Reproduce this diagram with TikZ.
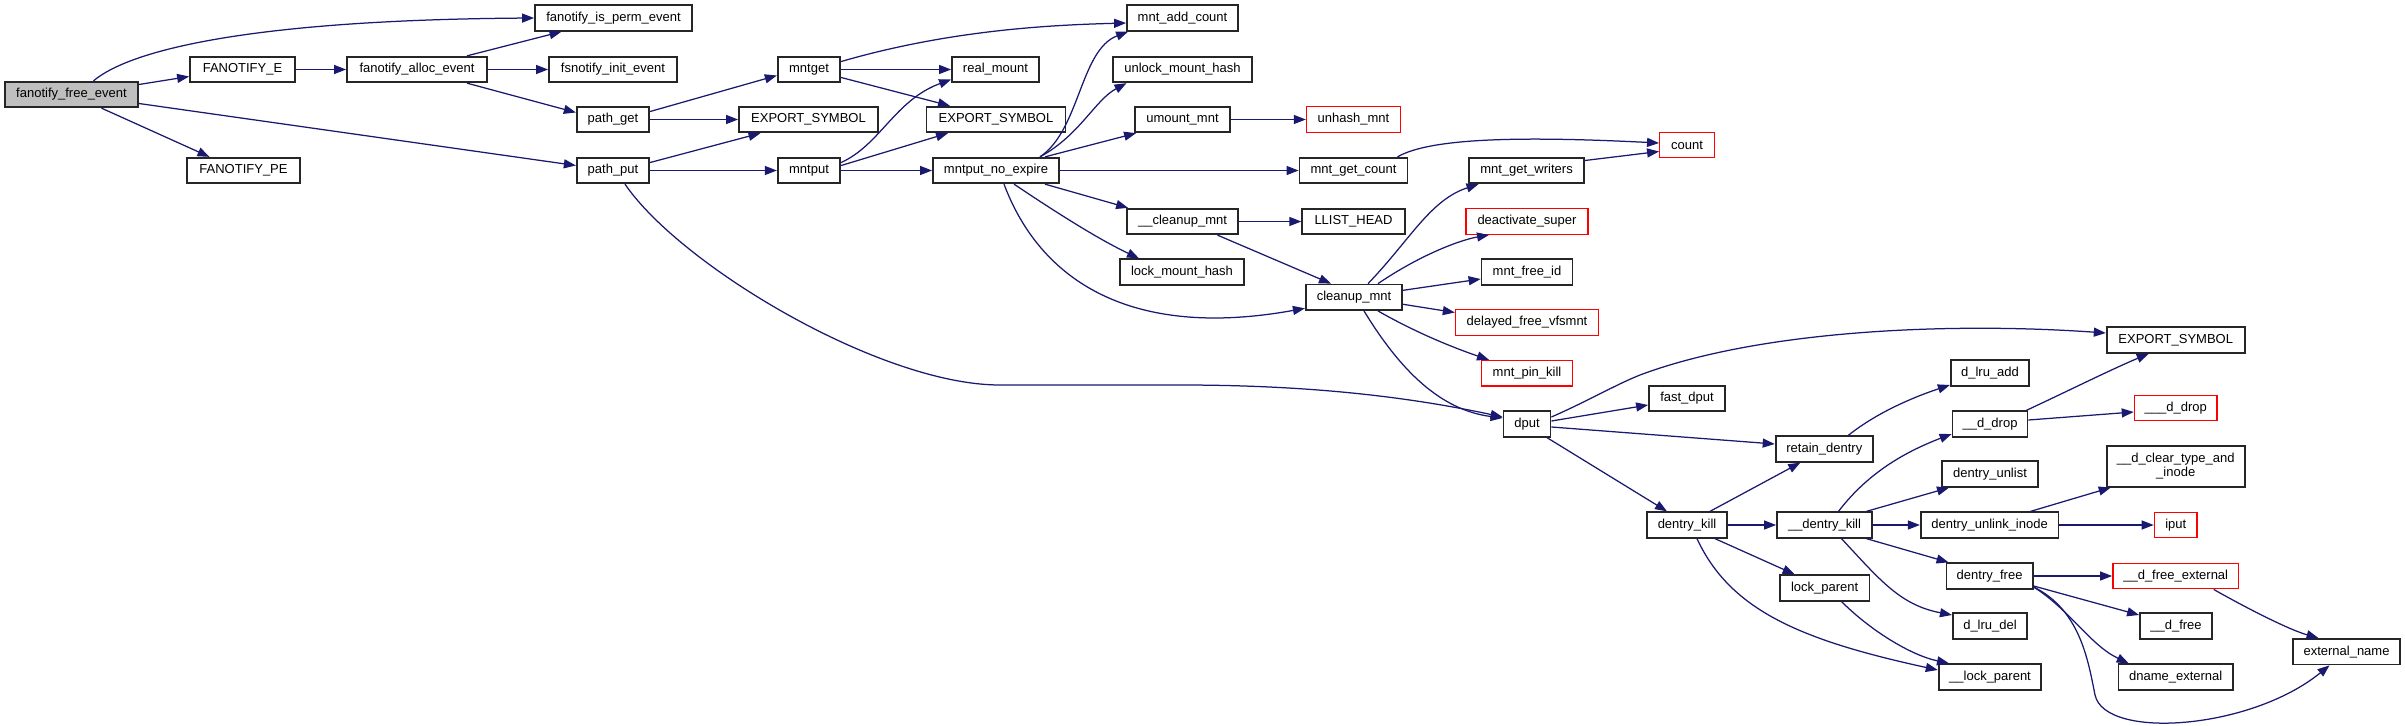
\documentclass[tikz,border=0pt]{standalone}
\usepackage{fontspec}
\setmainfont{Liberation Sans}
\usetikzlibrary{arrows.meta}
\definecolor{edgec}{RGB}{25,25,112}
\definecolor{grayfill}{RGB}{191,191,191}
\begin{document}
\begin{tikzpicture}[x=1pt,y=-1pt,
  box/.style={draw=black!85, line width=1.8pt, fill=white, minimum height=25.5pt, inner sep=0pt, font=\fontsize{13}{14.5}\selectfont},
  redbox/.style={box, draw=red, line width=1.4pt},
  e/.style={draw=edgec, line width=1.25pt, -{Triangle[length=12pt,width=9pt]}}]
\useasboundingbox[fill=white] (0,0) rectangle (2405,725);
% nodes
\node[box, minimum width=133pt, fill=grayfill] (ffe) at (71.5,94.5) {fanotify\_free\_event};
\node[box, minimum width=105pt] (fe) at (242.5,69.5) {FANOTIFY\_E};
\node[box, minimum width=113pt] (fpe) at (243.5,170.5) {FANOTIFY\_PE};
\node[box, minimum width=157pt] (isperm) at (613.5,18) {fanotify\_is\_perm\_event};
\node[box, minimum width=140pt] (alloc) at (417,69.5) {fanotify\_alloc\_event};
\node[box, minimum width=128pt] (fsinit) at (613,69.5) {fsnotify\_init\_event};
\node[box, minimum width=72.5pt] (pget) at (613,119.5) {path\_get};
\node[box, minimum width=72.5pt] (pput) at (613,170.5) {path\_put};
\node[box, minimum width=62.5pt] (mntget) at (809,69.5) {mntget};
\node[box, minimum width=139pt] (esa) at (808.5,119.5) {EXPORT\_SYMBOL};
\node[box, minimum width=62.5pt] (mntput) at (809,170.5) {mntput};
\node[box, minimum width=111pt] (addcount) at (1182.5,18) {mnt\_add\_count};
\node[box, minimum width=87pt] (realmount) at (995.5,69.5) {real\_mount};
\node[box, minimum width=139pt] (esb) at (996,119.5) {EXPORT\_SYMBOL};
\node[box, minimum width=139pt] (unlock) at (1182.5,69.5) {unlock\_mount\_hash};
\node[box, minimum width=95pt] (umount) at (1182.5,119.5) {umount\_mnt};
\node[redbox, minimum width=94pt] (unhash) at (1353.5,119.5) {unhash\_mnt};
\node[box, minimum width=126pt] (mne) at (996,170.5) {mntput\_no\_expire};
\node[box, minimum width=108pt] (mgc) at (1353.5,170.5) {mnt\_get\_count};
\node[box, minimum width=111pt] (ucleanup) at (1182.5,221.5) {\_\_cleanup\_mnt};
\node[box, minimum width=102.5pt] (llist) at (1353.5,221.5) {LLIST\_HEAD};
\node[box, minimum width=124pt] (lmh) at (1182,272) {lock\_mount\_hash};
\node[box, minimum width=96.4pt] (cleanup) at (1354,297.3) {cleanup\_mnt};
\node[redbox, minimum width=54.5pt] (count) at (1687,145) {count};
\node[box, minimum width=115pt] (mgw) at (1526.5,170.5) {mnt\_get\_writers};
\node[redbox, minimum width=122pt] (deact) at (1527,221.5) {deactivate\_super};
\node[box, minimum width=91pt] (mfi) at (1527,272) {mnt\_free\_id};
\node[redbox, minimum width=143pt] (delayed) at (1527,322.5) {delayed\_free\_vfsmnt};
\node[redbox, minimum width=91pt] (pinkill) at (1527,373.3) {mnt\_pin\_kill};
\node[box, minimum width=47pt] (dput) at (1527,424) {dput};
\node[box, minimum width=138pt] (esc) at (2175.7,340) {EXPORT\_SYMBOL};
\node[box, minimum width=76pt] (fastdput) at (1687,398.5) {fast\_dput};
\node[box, minimum width=97.4pt] (retain) at (1824.3,449) {retain\_dentry};
\node[box, minimum width=80.6pt] (dkill) at (1687,525) {dentry\_kill};
\node[box, minimum width=78.5pt] (dlruadd) at (1990,373) {d\_lru\_add};
\node[box, minimum width=75pt] (udrop) at (1990,424) {\_\_d\_drop};
\node[redbox, minimum width=82.6pt] (uudrop) at (2175.7,408) {\_\_\_d\_drop};
\node[box, minimum width=95pt] (udkill) at (1824.5,525) {\_\_dentry\_kill};
\node[box, minimum width=96.6pt] (dunlist) at (1990,474) {dentry\_unlist};
\node[box, minimum width=137.6pt] (dui) at (1989.6,525) {dentry\_unlink\_inode};
\node[box, minimum width=138pt, minimum height=40.7pt, align=center] (clear) at (2175.7,466.3) {\_\_d\_clear\_type\_and\\\_inode};
\node[redbox, minimum width=42.6pt] (iput) at (2175.7,525) {iput};
\node[box, minimum width=86.3pt] (dfree) at (1989.6,576) {dentry\_free};
\node[redbox, minimum width=125.8pt] (dfe) at (2175.7,576) {\_\_d\_free\_external};
\node[box, minimum width=89.8pt] (lockparent) at (1824.6,588) {lock\_parent};
\node[box, minimum width=102.7pt] (ulp) at (1990,677) {\_\_lock\_parent};
\node[box, minimum width=74.3pt] (dlrudel) at (1990,626) {d\_lru\_del};
\node[box, minimum width=72pt] (udfree) at (2176,626) {\_\_d\_free};
\node[box, minimum width=114.5pt] (dname) at (2175.7,677) {dname\_external};
\node[box, minimum width=106.8pt] (extname) at (2346.5,651.7) {external\_name};
% edges
\draw[e] ([xshift=22pt]ffe.north) .. controls (130,50) and (250,20) .. (isperm.west);
\draw[e] ([yshift=10pt]ffe.east) -- ([yshift=-7pt]fe.west);
\draw[e] ([xshift=30pt]ffe.south) -- ([xshift=-34pt]fpe.north);
\draw[e] ([yshift=-9pt]ffe.east) -- ([yshift=5pt]pput.west);
\draw[e] (fe.east) -- (alloc.west);
\draw[e] ([xshift=50pt]alloc.north) -- ([xshift=-52pt]isperm.south);
\draw[e] (alloc.east) -- (fsinit.west);
\draw[e] ([xshift=50pt]alloc.south) -- ([yshift=7pt]pget.west);
\draw[e] ([yshift=8pt]pget.east) -- ([yshift=-6pt]mntget.west);
\draw[e] (pget.east) -- (esa.west);
\draw[e] ([yshift=8pt]pput.east) -- ([xshift=-48pt]esa.south);
\draw[e] (pput.east) -- (mntput.west);
\draw[e] ([xshift=12pt]pput.south) .. controls (680,265) and (880,385) .. (1000,385) -- (1180,385) .. controls (1300,385) and (1400,395) .. ([yshift=7pt]dput.west);
\draw[e] ([yshift=8pt]mntget.east) .. controls (950,30) and (1050,25) .. ([yshift=-5pt]addcount.west);
\draw[e] (mntget.east) -- (realmount.west);
\draw[e] ([yshift=-8pt]mntget.east) -- ([xshift=-46pt]esb.north);
\draw[e] ([yshift=8pt]mntput.east) .. controls (880,145) and (895,100) .. ([yshift=-10pt]realmount.west);
\draw[e] ([yshift=5pt]mntput.east) -- ([xshift=-48pt]esb.south);
\draw[e] (mntput.east) -- (mne.west);
\draw[e] ([xshift=44pt]mne.north) .. controls (1080,130) and (1080,50) .. ([xshift=2pt]addcount.south west);
\draw[e] ([xshift=44pt]mne.north) .. controls (1080,135) and (1095,100) .. ([xshift=-56pt]unlock.south);
\draw[e] ([xshift=49pt]mne.north) -- ([xshift=2pt]umount.south west);
\draw[e] (mne.east) -- (mgc.west);
\draw[e] ([xshift=49pt]mne.south) -- ([xshift=2pt]ucleanup.north west);
\draw[e] ([xshift=18pt]mne.south) .. controls (1060,215) and (1100,240) .. ([xshift=-43pt]lmh.north);
\draw[e] ([xshift=8pt]mne.south) .. controls (1040,280) and (1130,340) .. ([yshift=-11pt]cleanup.west);
\draw[e] (umount.east) -- (unhash.west);
\draw[e] ([xshift=44pt]mgc.north) .. controls (1430,138) and (1520,136) .. ([yshift=2pt]count.west);
\draw[e] ([yshift=10pt]mgw.east) -- ([yshift=-6.5pt]count.west);
\draw[e] (ucleanup.east) -- (llist.west);
\draw[e] ([xshift=35pt]ucleanup.south) -- ([xshift=-23pt]cleanup.north);
\draw[e] ([xshift=14pt]cleanup.north) .. controls (1410,240) and (1430,200) .. ([xshift=-48pt]mgw.south);
\draw[e] ([xshift=24pt]cleanup.north) .. controls (1420,255) and (1460,240) .. ([xshift=-38pt]deact.south);
\draw[e] ([yshift=7pt]cleanup.east) -- ([yshift=-7pt]mfi.west);
\draw[e] ([yshift=-7pt]cleanup.east) -- ([yshift=10pt]delayed.west);
\draw[e] ([xshift=24pt]cleanup.south) .. controls (1420,335) and (1460,350) .. ([xshift=-38pt]pinkill.north);
\draw[e] ([xshift=10pt]cleanup.south) .. controls (1400,370) and (1440,410) .. ([yshift=6pt]dput.west);
\draw[e] ([yshift=7pt]dput.east) .. controls (1590,400) and (1615,385) .. (1640,375) .. controls (1760,330) and (1950,322) .. ([yshift=7pt]esc.west);
\draw[e] ([yshift=3pt]dput.east) -- ([yshift=-6.5pt]fastdput.west);
\draw[e] ([yshift=-3pt]dput.east) -- ([yshift=5pt]retain.west);
\draw[e] ([xshift=20pt]dput.south) -- ([xshift=-20pt]dkill.north);
\draw[e] ([xshift=24pt]retain.north) .. controls (1880,410) and (1920,395) .. ([yshift=-12pt]dlruadd.west);
\draw[e] ([xshift=23pt]dkill.north) -- ([xshift=-24pt]retain.south);
\draw[e] (dkill.east) -- (udkill.west);
\draw[e] ([xshift=28pt]dkill.south) -- ([xshift=-30pt]lockparent.north);
\draw[e] ([xshift=10pt]dkill.south) .. controls (1730,610) and (1800,640) .. ([yshift=7pt]ulp.west);
\draw[e] ([xshift=14pt]udkill.north) .. controls (1870,470) and (1910,450) .. ([yshift=-10pt]udrop.west);
\draw[e] ([xshift=42pt]udkill.north) -- ([xshift=-41pt]dunlist.south);
\draw[e] (udkill.east) -- (dui.west);
\draw[e] ([xshift=42pt]udkill.south) -- ([xshift=3pt]dfree.north west);
\draw[e] ([xshift=17pt]udkill.south) .. controls (1880,580) and (1900,605) .. ([yshift=11pt]dlrudel.west);
\draw[e] ([xshift=17pt]lockparent.south) .. controls (1870,630) and (1910,655) .. ([xshift=-41pt]ulp.north);
\draw[e] ([xshift=-2pt]udrop.north east) .. controls (2070,390) and (2110,370) .. ([xshift=-27pt]esc.south);
\draw[e] ([yshift=4pt]udrop.east) -- ([yshift=-4pt]uudrop.west);
\draw[e] ([xshift=41pt]dui.north) -- ([xshift=-65pt]clear.south);
\draw[e] (dui.east) -- (iput.west);
\draw[e] (dfree.east) -- (dfe.west);
\draw[e] ([yshift=-10pt]dfree.east) -- ([yshift=11pt]udfree.west);
\draw[e] ([yshift=-11pt]dfree.east) .. controls (2070,610) and (2090,645) .. ([xshift=-47pt]dname.north);
\draw[e] ([yshift=-11pt]dfree.east) .. controls (2080,610) and (2088,660) .. (2095,695) .. controls (2105,740) and (2250,730) .. ([xshift=-17pt]extname.south);
\draw[e] ([xshift=38pt]dfe.south) .. controls (2250,610) and (2290,630) .. ([xshift=-28pt]extname.north);
\end{tikzpicture}
\end{document}
